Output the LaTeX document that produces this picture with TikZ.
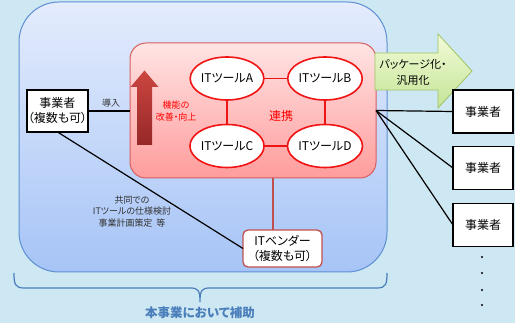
\documentclass[tikz,border=0pt]{standalone}
\usepackage{fontspec}
\setmainfont{Noto Sans CJK JP}[RawFeature={+palt}]
\usetikzlibrary{shapes.geometric}
\definecolor{bgblue}{RGB}{205,232,242}
\definecolor{regiontop}{RGB}{228,236,253}
\definecolor{regionbot}{RGB}{166,196,246}
\definecolor{regionborder}{RGB}{94,143,211}
\definecolor{pinktop}{RGB}{255,228,228}
\definecolor{pinkbot}{RGB}{255,156,156}
\definecolor{pinkborder}{RGB}{215,95,95}
\definecolor{toolred}{RGB}{240,20,20}
\definecolor{arrowtop}{RGB}{204,70,64}
\definecolor{arrowbot}{RGB}{150,40,40}
\definecolor{greentop}{RGB}{242,251,216}
\definecolor{greenbot}{RGB}{196,228,150}
\definecolor{greenborder}{RGB}{160,195,100}
\definecolor{vendorborder}{RGB}{192,80,77}
\definecolor{braceblue}{RGB}{74,126,187}
\definecolor{labelgray}{RGB}{50,50,50}
\begin{document}
\begin{tikzpicture}[x=1pt,y=-1pt,
  every node/.style={inner sep=0pt, outer sep=0pt, align=center},
  bizbox/.style={draw=black, line width=1.3pt, fill=white, minimum width=60pt, minimum height=43pt, font=\fontsize{12}{15}\selectfont},
  tool/.style={ellipse, draw=toolred, line width=1.6pt, fill=white, minimum width=63pt, minimum height=43pt, font=\fontsize{12}{14}\selectfont},
  toollink/.style={draw=toolred, line width=1.6pt},
  conn/.style={draw=black, line width=1.2pt},
  small/.style={font=\fontsize{9}{11.5}\selectfont, text=labelgray}
]
\useasboundingbox (0,0) rectangle (515,323);
\fill[bgblue] (0,0) rectangle (515,323);

% subsidised region
\node[draw=regionborder, line width=1pt, rounded corners=40pt, top color=regiontop, bottom color=regionbot,
      minimum width=368pt, minimum height=270pt] (region) at (203,137) {};

% pink collaboration area
\node[draw=pinkborder, line width=1pt, rounded corners=16pt, top color=pinktop, bottom color=pinkbot,
      minimum width=246pt, minimum height=135pt] (pink) at (253,110.5) {};

% red up arrow
\shade[top color=arrowtop, bottom color=arrowbot]
  (137,145) -- (152,145) -- (152,87) -- (158.5,87) -- (144.5,70.5) -- (130.5,87) -- (137,87) -- cycle;
\node[font=\fontsize{9}{12}\selectfont, text=red] (kinou) at (176,111) {機能の\\改善・向上};

% IT tools
\node[tool] (ta) at (227,78.5) {ITツールA};
\node[tool] (tb) at (325,78.5) {ITツールB};
\node[tool] (tc) at (227,146) {ITツールC};
\node[tool] (td) at (325,146) {ITツールD};
\draw[toollink] (ta) -- (tb);
\draw[toollink] (ta) -- (tc);
\draw[toollink] (tb) -- (td);
\draw[toollink] (tc) -- (td);
\node[font=\fontsize{12}{14}\selectfont, text=red] (renkei) at (281,116) {連携};

% left business
\node[bizbox, minimum width=61pt, minimum height=42pt] (jig) at (57.5,111) {事業者\\（複数も可）};
\draw[conn] (jig.east) -- (jig.east -| pink.west) coordinate (pinkin);
\node[small] (donyu) at (111,103) {導入};

% vendor
\node[draw=vendorborder, line width=1.3pt, rounded corners=5pt, fill=white, minimum width=79pt, minimum height=37pt,
      font=\fontsize{12}{15}\selectfont] (vendor) at (282.5,248.5) {ITベンダー\\（複数も可）};
\coordinate (vtop) at (273,230);
\draw[draw=vendorborder, line width=1.2pt] (vtop) -- (vtop |- pink.south);
\draw[conn] (jig.south) -- (vendor.west);
\node[small] (kyodo) at (132,211.5) {共同での\\ITツールの仕様検討\\事業計画策定\hspace{4pt}等};

% green arrow
\draw[draw=greenborder, line width=0.8pt, top color=greentop, bottom color=greenbot]
  (375,53) -- (438,53) -- (438,34) -- (472,71) -- (438,108) -- (438,90) -- (375,90) -- cycle;
\node[font=\fontsize{11}{16}\selectfont] (pkg) at (413,72) {パッケージ化・\\汎用化};

% right businesses
\node[bizbox] (b1) at (483,111.5) {事業者};
\node[bizbox] (b2) at (483,168) {事業者};
\node[bizbox] (b3) at (483,225) {事業者};
\draw[conn] (pink.east) -- (b1.west);
\draw[conn] (pink.east) -- (b2.west);
\draw[conn] (pink.east) -- (b3.west);
\foreach \yy in {257,273,290,305} \fill (482,\yy) circle (1.1pt);

% brace
\draw[braceblue, line width=1.2pt]
  (14,273) .. controls (14,284) and (15,288) .. (24,288) -- (190,288)
  .. controls (198,288) and (200,290) .. (200,302)
  .. controls (200,290) and (202,288) .. (210,288) -- (377,288)
  .. controls (386,288) and (387,284) .. (387,273);
\node[font=\fontsize{12.5}{14}\selectfont\bfseries, text=braceblue] (hojo) at (200,313) {本事業において補助};
\end{tikzpicture}
\end{document}
